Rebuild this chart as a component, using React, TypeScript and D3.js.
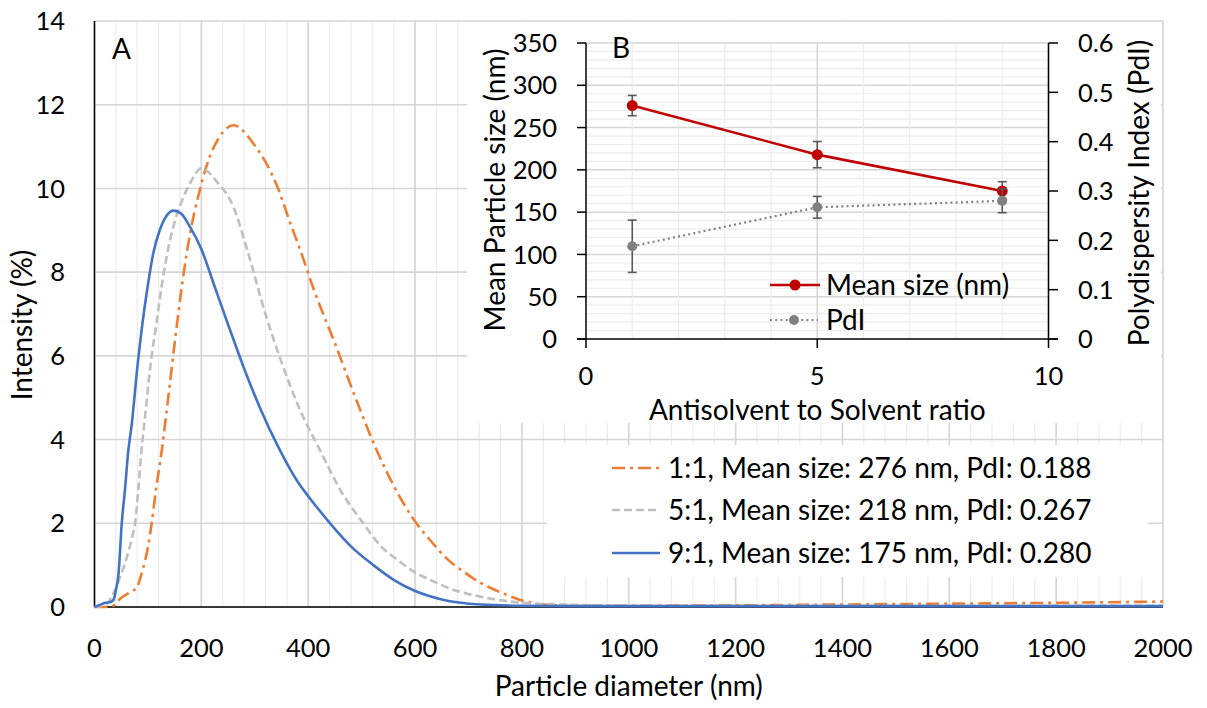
import React from 'react';
import * as d3 from 'd3';

// ---------- Panel A: DLS intensity distributions ----------
const diam11 = [0, 20, 35, 48, 60, 70, 79, 87, 95, 101, 107, 115, 126, 138, 151, 165, 179, 194, 210, 235, 260, 297, 341, 369, 384, 410, 450, 490, 528, 560, 597, 628, 660, 690, 722, 760, 797, 847, 900, 1000, 1200, 1400, 1600, 1800, 2000];
const int11 = [0, 0, 0.03, 0.2, 0.3, 0.38, 0.45, 0.75, 1.12, 1.5, 2.0, 2.8, 3.75, 5.0, 6.4, 7.8, 8.93, 9.8, 10.55, 11.25, 11.51, 11.08, 10.08, 9.08, 8.57, 7.6, 6.3, 4.95, 3.75, 2.9, 2.1, 1.6, 1.15, 0.85, 0.58, 0.35, 0.17, 0.05, 0.03, 0.03, 0.04, 0.06, 0.08, 0.1, 0.13];

const diam51 = [0, 15, 25, 32, 40, 48, 56, 64, 70, 76, 82, 88, 95, 105, 115, 125, 138, 150, 165, 180, 200, 229, 260, 285, 320, 350, 385, 422, 460, 503, 534, 570, 597, 628, 670, 722, 802, 900, 1000, 1200, 1400, 1600, 1800, 2000];
const int51 = [0, 0.03, 0.1, 0.25, 0.45, 0.72, 1.0, 1.35, 1.65, 2.0, 2.8, 3.75, 4.6, 5.8, 6.7, 7.6, 8.57, 9.2, 9.75, 10.15, 10.48, 10.16, 9.56, 8.57, 7.0, 5.85, 4.7, 3.75, 2.8, 2.0, 1.48, 1.1, 0.85, 0.65, 0.42, 0.25, 0.1, 0.05, 0.03, 0.03, 0.03, 0.03, 0.03, 0.03];

const diam91 = [0, 10, 20, 30, 36, 40, 45, 51, 57, 63, 70, 80, 90, 100, 110, 122, 135, 148, 162, 178, 200, 225, 250, 280, 310, 347, 380, 403, 441, 480, 522, 560, 597, 650, 722, 800, 900, 1000, 1200, 1400, 1600, 1800, 2000];
const int91 = [0, 0.05, 0.1, 0.12, 0.18, 0.4, 0.8, 2.0, 2.8, 3.7, 4.4, 5.7, 6.8, 7.7, 8.45, 9.0, 9.35, 9.47, 9.4, 9.1, 8.55, 7.65, 6.75, 5.7, 4.75, 3.75, 3.0, 2.6, 2.0, 1.45, 1.0, 0.65, 0.4, 0.18, 0.06, 0.03, 0.02, 0.02, 0.02, 0.02, 0.02, 0.02, 0.02];

const legendA = [
  '1:1, Mean size: 276 nm, PdI: 0.188',
  '5:1, Mean size: 218 nm, PdI: 0.267',
  '9:1, Mean size: 175 nm, PdI: 0.280',
];
const xTicksA = [0, 200, 400, 600, 800, 1000, 1200, 1400, 1600, 1800, 2000];
const yTicksA = [0, 2, 4, 6, 8, 10, 12, 14];

// ---------- Panel B: inset ----------
const ratios = [1, 5, 9];
const meanSize = [276, 218, 175];
const meanSizeErr = [12, 15.5, 11];
const pdi = [0.188, 0.267, 0.28];
const pdiErr = [0.053, 0.022, 0.024];
const xTicksB = [0, 5, 10];
const yTicksBLeft = [0, 50, 100, 150, 200, 250, 300, 350];
const yTicksBRight = [0, 0.1, 0.2, 0.3, 0.4, 0.5, 0.6];

const FONT = "Lato, 'Open Sans', sans-serif";
const NUM = 25.5; // tick numbers
const TXT = 28; // titles / legends

export default function App() {
  const x = d3.scaleLinear().domain([0, 2000]).range([94.5, 1163]);
  const y = d3.scaleLinear().domain([0, 14]).range([607, 21]);

  const mk = (ds: number[], vs: number[]) =>
    d3
      .line<number>()
      .x((_, i) => x(ds[i]))
      .y((v) => y(v))
      .curve(d3.curveMonotoneX)(vs) as string;

  const xi = d3.scaleLinear().domain([0, 10]).range([586, 1048.5]);
  const yl = d3.scaleLinear().domain([0, 350]).range([339, 43]);
  const yr = d3.scaleLinear().domain([0, 0.6]).range([339, 43]);

  const sizeLine = d3
    .line<number>()
    .x((_, i) => xi(ratios[i]))
    .y((v) => yl(v))(meanSize) as string;
  const pdiLine = d3
    .line<number>()
    .x((_, i) => xi(ratios[i]))
    .y((v) => yr(v))(pdi) as string;

  const minorX = d3.range(0, 2001, 40);
  const minorXi = d3.range(1, 11, 1);
  const minorYi = d3.range(10, 351, 10);

  const series = [
    { d: diam11, v: int11, color: '#ed7d31', dash: '13 5 3 5' },
    { d: diam51, v: int51, color: '#bfbfbf', dash: '8 4' },
    { d: diam91, v: int91, color: '#4472c4', dash: undefined },
  ];

  const legY = [468, 510, 553];

  return (
    <svg
      width={1207}
      height={708}
      style={{ position: 'absolute', left: 0, top: 0, background: '#fff' }}
      fontFamily={FONT}
      fontSize={TXT}
      fill="#000"
    >
      <rect x={0} y={0} width={1207} height={708} fill="#fff" />
      {/* Panel A gridlines */}
      {minorX.map((t) => (
        <line key={'mx' + t} x1={x(t)} x2={x(t)} y1={y(14)} y2={y(0)} stroke="#ececec" strokeWidth={1.2} />
      ))}
      {xTicksA.map((t) => (
        <line key={'gx' + t} x1={x(t)} x2={x(t)} y1={y(14)} y2={y(0)} stroke="#d6d6d6" strokeWidth={1.6} />
      ))}
      {yTicksA.map((t) => (
        <line key={'gy' + t} x1={x(0)} x2={x(2000)} y1={y(t)} y2={y(t)} stroke="#d6d6d6" strokeWidth={1.6} />
      ))}
      {/* axes */}
      <line x1={x(0)} x2={x(2000)} y1={y(0)} y2={y(0)} stroke="#000" strokeWidth={1.5} />
      <line x1={x(0)} x2={x(0)} y1={y(0)} y2={y(14)} stroke="#000" strokeWidth={1.5} />
      {/* curves */}
      {series.map((s, i) => (
        <path key={'s' + i} d={mk(s.d, s.v)} fill="none" stroke={s.color} strokeWidth={2.6} strokeDasharray={s.dash} />
      ))}
      {/* tick labels */}
      {yTicksA.map((t) => (
        <text key={'yl' + t} x={65} y={y(t)} dy="0.36em" textAnchor="end" fontSize={NUM}>
          {t}
        </text>
      ))}
      {xTicksA.map((t) => (
        <text key={'xl' + t} x={x(t)} y={657} textAnchor="middle" fontSize={NUM}>
          {t}
        </text>
      ))}
      <text x={(x(0) + x(2000)) / 2} y={696} textAnchor="middle">Particle diameter (nm)</text>
      <text transform={`translate(32,${325}) rotate(-90)`} textAnchor="middle">Intensity (%)</text>
      <text x={112} y={59}>A</text>

      {/* Legend A */}
      <rect x={547} y={445} width={601} height={132} fill="#fff" />
      {series.map((s, i) => (
        <g key={'lg' + i}>
          <line x1={612} x2={660} y1={legY[i]} y2={legY[i]} stroke={s.color} strokeWidth={2.6} strokeDasharray={s.dash} />
          <text x={668} y={legY[i]} dy="0.36em">{legendA[i]}</text>
        </g>
      ))}

      {/* Inset B */}
      <rect x={467} y={22} width={694} height={401} fill="#fff" />
      {minorYi.map((t) => (
        <line key={'iy' + t} x1={xi(0)} x2={xi(10)} y1={yl(t)} y2={yl(t)} stroke={t % 50 === 0 ? '#d6d6d6' : '#ececec'} strokeWidth={t % 50 === 0 ? 1.5 : 1.2} />
      ))}
      {minorXi.map((t) => (
        <line key={'ix' + t} x1={xi(t)} x2={xi(t)} y1={yl(0)} y2={yl(350)} stroke={t % 5 === 0 ? '#d6d6d6' : '#ececec'} strokeWidth={t % 5 === 0 ? 1.5 : 1.2} />
      ))}
      {/* inset axes */}
      <line x1={xi(0)} x2={xi(0)} y1={yl(0)} y2={yl(350)} stroke="#000" strokeWidth={1.5} />
      <line x1={xi(10)} x2={xi(10)} y1={yl(0)} y2={yl(350)} stroke="#000" strokeWidth={1.5} />
      <line x1={577} x2={1058} y1={yl(0)} y2={yl(0)} stroke="#000" strokeWidth={1.5} />
      {yTicksBLeft.map((t) => (
        <g key={'bl' + t}>
          <line x1={577} x2={xi(0)} y1={yl(t)} y2={yl(t)} stroke="#000" strokeWidth={1.5} />
          <text x={557} y={yl(t)} dy="0.36em" textAnchor="end" fontSize={NUM}>{t}</text>
        </g>
      ))}
      {yTicksBRight.map((t) => (
        <g key={'br' + t}>
          <line x1={xi(10)} x2={1058} y1={yr(t)} y2={yr(t)} stroke="#000" strokeWidth={1.5} />
          <text x={1078} y={yr(t)} dy="0.36em" fontSize={NUM}>{t}</text>
        </g>
      ))}
      {xTicksB.map((t) => (
        <g key={'bx' + t}>
          <line x1={xi(t)} x2={xi(t)} y1={yl(0)} y2={yl(0) + 9} stroke="#000" strokeWidth={1.5} />
          <text x={xi(t)} y={385} textAnchor="middle" fontSize={NUM}>{t}</text>
        </g>
      ))}
      <text x={xi(5)} y={420} textAnchor="middle">Antisolvent to Solvent ratio</text>
      <text transform={`translate(505,190) rotate(-90)`} textAnchor="middle">Mean Particle size (nm)</text>
      <text transform={`translate(1149,193) rotate(-90)`} textAnchor="middle">Polydispersity Index (PdI)</text>
      <text x={612} y={58}>B</text>

      {/* Mean size series */}
      <path d={sizeLine} fill="none" stroke="#c00000" strokeWidth={2.6} />
      {ratios.map((r, i) => (
        <g key={'es' + i} stroke="#595959" strokeWidth={1.6}>
          <line x1={xi(r)} x2={xi(r)} y1={yl(meanSize[i] - meanSizeErr[i])} y2={yl(meanSize[i] + meanSizeErr[i])} />
          <line x1={xi(r) - 4.5} x2={xi(r) + 4.5} y1={yl(meanSize[i] - meanSizeErr[i])} y2={yl(meanSize[i] - meanSizeErr[i])} />
          <line x1={xi(r) - 4.5} x2={xi(r) + 4.5} y1={yl(meanSize[i] + meanSizeErr[i])} y2={yl(meanSize[i] + meanSizeErr[i])} />
        </g>
      ))}
      {ratios.map((r, i) => (
        <circle key={'ms' + i} cx={xi(r)} cy={yl(meanSize[i])} r={5.5} fill="#c00000" />
      ))}
      {/* PdI series */}
      <path d={pdiLine} fill="none" stroke="#808080" strokeWidth={2.2} strokeDasharray="2 3.2" />
      {ratios.map((r, i) => (
        <g key={'ep' + i} stroke="#595959" strokeWidth={1.6}>
          <line x1={xi(r)} x2={xi(r)} y1={yr(pdi[i] - pdiErr[i])} y2={yr(pdi[i] + pdiErr[i])} />
          <line x1={xi(r) - 4.5} x2={xi(r) + 4.5} y1={yr(pdi[i] - pdiErr[i])} y2={yr(pdi[i] - pdiErr[i])} />
          <line x1={xi(r) - 4.5} x2={xi(r) + 4.5} y1={yr(pdi[i] + pdiErr[i])} y2={yr(pdi[i] + pdiErr[i])} />
        </g>
      ))}
      {ratios.map((r, i) => (
        <circle key={'mp' + i} cx={xi(r)} cy={yr(pdi[i])} r={5} fill="#808080" />
      ))}
      {/* Inset legend */}
      <line x1={770} x2={820} y1={285} y2={285} stroke="#c00000" strokeWidth={2.6} />
      <circle cx={795} cy={285} r={5.5} fill="#c00000" />
      <text x={826} y={285} dy="0.36em">Mean size (nm)</text>
      <line x1={770} x2={818} y1={320} y2={320} stroke="#808080" strokeWidth={2.2} strokeDasharray="2 3.2" />
      <circle cx={794} cy={320} r={5} fill="#808080" />
      <text x={826} y={320} dy="0.36em">PdI</text>
    </svg>
  );
}
